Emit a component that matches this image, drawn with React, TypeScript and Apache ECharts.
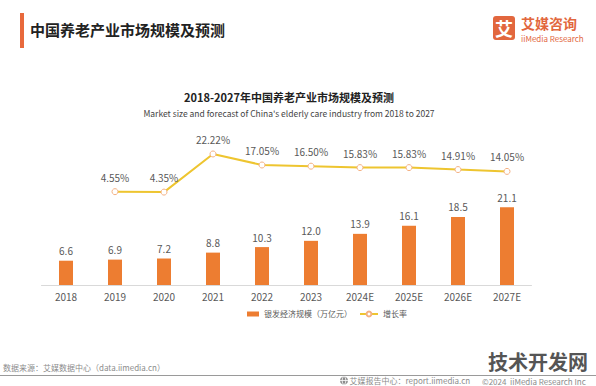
import React, { useEffect, useRef } from 'react';
import * as echarts from 'echarts';

const categories = ['2018', '2019', '2020', '2021', '2022', '2023', '2024E', '2025E', '2026E', '2027E'];
const marketSize = [6.6, 6.9, 7.2, 8.8, 10.3, 12.0, 13.9, 16.1, 18.5, 21.1];
const growthRate: (number | null)[] = [null, 4.55, 4.35, 22.22, 17.05, 16.5, 15.83, 15.83, 14.91, 14.05];

const barName = '银发经济规模（万亿元）';
const lineName = '增长率';
const pageTitle = '中国养老产业市场规模及预测';
const chartTitle = '2018-2027年中国养老产业市场规模及预测';
const chartSubtitle = "Market size and forecast of China's elderly care industry from 2018 to 2027";
const sourceText = '数据来源：艾媒数据中心（data.iimedia.cn）';
const footerCenter = '艾媒报告中心：report.iimedia.cn';
const footerRight = '©2024  iiMedia Research Inc';
const watermark = '技术开发网';

const FONT = '"Noto Sans CJK SC", "Noto Sans", sans-serif';

export default function App() {
  const ref = useRef<HTMLDivElement>(null);
  useEffect(() => {
    document.body.style.margin = '0';
    if (!ref.current) return;
    const chart = echarts.init(ref.current, undefined, { renderer: 'svg' });
    chart.setOption({
      animation: false,
      backgroundColor: '#ffffff',
      textStyle: { fontFamily: FONT },
      grid: { left: 41.5, right: 64.5, top: 64.2, bottom: 101 },
      xAxis: {
        type: 'category',
        data: categories,
        axisLine: { lineStyle: { color: '#D9D9D9', width: 1 } },
        axisTick: { show: false },
        axisLabel: { color: '#595959', fontSize: 10, margin: 6, fontFamily: FONT },
      },
      yAxis: [
        { type: 'value', min: 0, max: 60, show: false, splitLine: { show: false } },
        { type: 'value', min: -39.2, max: 64.3, show: false, splitLine: { show: false } },
      ],
      legend: [
        {
          data: [{ name: barName, icon: 'rect' }],
          left: 242,
          top: 305,
          itemWidth: 12,
          itemHeight: 5,
          itemGap: 5,
          textStyle: { color: '#595959', fontSize: 8, fontFamily: FONT },
        },
        {
          data: [lineName],
          left: 354,
          top: 305,
          itemWidth: 18,
          itemHeight: 6,
          textStyle: { color: '#595959', fontSize: 8, fontFamily: FONT },
        },
      ],
      series: [
        {
          name: barName,
          type: 'bar',
          data: marketSize,
          barWidth: 14,
          itemStyle: { color: '#ED7D31' },
          label: {
            show: true,
            position: 'top',
            distance: 5,
            color: '#595959',
            fontSize: 10,
            fontFamily: FONT,
            formatter: (p: any) => Number(p.value).toFixed(1),
          },
        },
        {
          name: lineName,
          type: 'line',
          yAxisIndex: 1,
          data: growthRate,
          symbol: 'circle',
          symbolSize: 6,
          lineStyle: { color: '#EEC530', width: 2 },
          itemStyle: { color: '#ffffff', borderColor: '#F4B183', borderWidth: 1 },
          label: {
            show: true,
            position: 'top',
            distance: 6,
            color: '#595959',
            fontSize: 10,
            fontFamily: FONT,
            formatter: (p: any) => Number(p.value).toFixed(2) + '%',
          },
        },
      ],
      graphic: [
        { type: 'rect', shape: { x: 20, y: 13, width: 4, height: 35 }, style: { fill: '#E8693C' } },
        {
          type: 'text', x: 30, y: 29,
          style: { text: pageTitle, fill: '#222222', font: `bold 15px ${FONT}`, textVerticalAlign: 'middle' },
        },
        { type: 'rect', shape: { x: 493, y: 16, width: 22, height: 24, r: 3 }, style: { fill: '#E2673E' } },
        {
          type: 'text', x: 504, y: 28,
          style: { text: '艾', fill: '#ffffff', font: `bold 18px ${FONT}`, textAlign: 'center', textVerticalAlign: 'middle' },
        },
        {
          type: 'text', x: 521, y: 23,
          style: { text: '艾媒咨询', fill: '#E2673E', font: `bold 14px ${FONT}`, textVerticalAlign: 'middle' },
        },
        {
          type: 'text', x: 521, y: 38,
          style: { text: 'iiMedia Research', fill: '#E2673E', font: `8px ${FONT}`, textVerticalAlign: 'middle' },
        },
        {
          type: 'text', x: 289, y: 97,
          style: { text: chartTitle, fill: '#222222', font: `bold 11px ${FONT}`, textAlign: 'center', textVerticalAlign: 'middle' },
        },
        {
          type: 'text', x: 289, y: 113,
          style: { text: chartSubtitle, fill: '#444444', font: `8.5px ${FONT}`, textAlign: 'center', textVerticalAlign: 'middle' },
        },
        {
          type: 'text', x: 3, y: 367,
          style: { text: sourceText, fill: '#8C8C8C', font: `8px ${FONT}`, textVerticalAlign: 'middle' },
        },
        { type: 'line', shape: { x1: 0, y1: 375.5, x2: 596, y2: 375.5 }, style: { stroke: '#9A9A9A', lineWidth: 1 } },
        {
          type: 'text', x: 538, y: 361, z: 10,
          style: { text: watermark, fill: '#555555', font: `bold 20px ${FONT}`, textAlign: 'center', textVerticalAlign: 'middle' },
        },
        { type: 'circle', shape: { cx: 344, cy: 380.5, r: 4 }, style: { fill: '#8C8C8C' } },
        { type: 'ellipse', shape: { cx: 344, cy: 380.5, rx: 1.8, ry: 4 }, style: { fill: 'none', stroke: '#ffffff', lineWidth: 0.8 } },
        { type: 'line', shape: { x1: 340, y1: 380.5, x2: 348, y2: 380.5 }, style: { stroke: '#ffffff', lineWidth: 0.8 } },
        {
          type: 'text', x: 349.5, y: 380.5,
          style: { text: footerCenter, fill: '#8C8C8C', font: `8px ${FONT}`, textVerticalAlign: 'middle' },
        },
        {
          type: 'text', x: 482, y: 381.5,
          style: { text: footerRight, fill: '#8C8C8C', font: `8px ${FONT}`, textVerticalAlign: 'middle' },
        },
      ],
    });
    return () => chart.dispose();
  }, []);
  return <div ref={ref} style={{ width: 596, height: 386 }} />;
}
